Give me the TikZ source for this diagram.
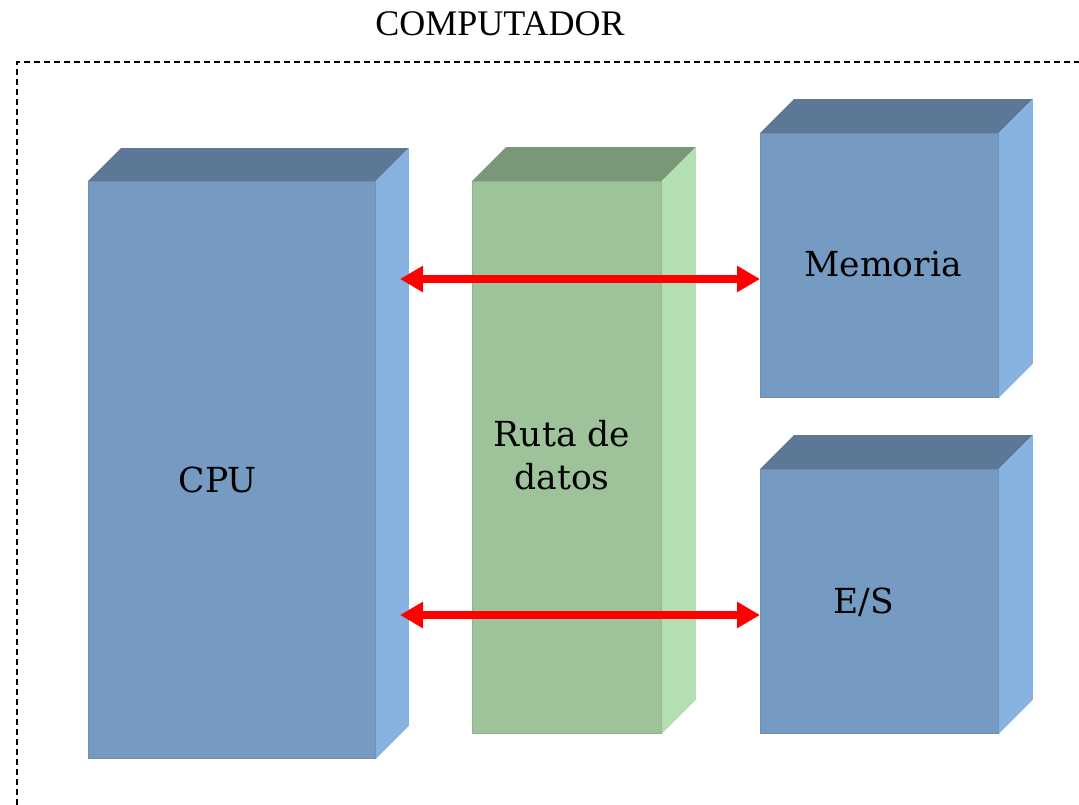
\documentclass[tikz,border=0pt]{standalone}
\usepackage{fontspec}
\setmainfont{DejaVu Serif}
\newfontfamily\titlefont{Liberation Serif}
\usetikzlibrary{arrows.meta}
\definecolor{bfront}{HTML}{759BC3}
\definecolor{btop}{HTML}{5D7896}
\definecolor{bside}{HTML}{87B1DF}
\definecolor{gfront}{HTML}{9EC39B}
\definecolor{gtop}{HTML}{7A9878}
\definecolor{gside}{HTML}{B3DFB2}
\tikzset{
  facebox/.style={rectangle, inner sep=0pt, anchor=north west, draw=#1!92!black, line width=0.8pt, fill=#1},
  lbl/.style={font=\fontsize{34.5}{43}\selectfont, text=black, align=center},
  bus/.style={draw=red, line width=8.5pt, {Triangle[length=23pt,width=25pt]}-{Triangle[length=23pt,width=25pt]}},
  border/.style={draw=black, line width=1.8pt, dash pattern=on 6pt off 4pt}
}
\newcommand{\cubeparts}[4]{% name, depth, top color, side color
  \fill[#3] (#1.north west) -- ++(#2pt,#2pt) -- ([xshift=#2pt,yshift=#2pt]#1.north east) -- (#1.north east) -- cycle;
  \fill[#4] (#1.north east) -- ++(#2pt,#2pt) -- ([xshift=#2pt,yshift=#2pt]#1.south east) -- (#1.south east) -- cycle;
}
\begin{document}
\begin{tikzpicture}[x=1pt,y=-1pt]
\useasboundingbox (0,0) rectangle (1079,804);
\fill[white] (0,0) rectangle (1079,804);
\node[font=\titlefont\fontsize{36}{40}\selectfont] (title) at (500,24) {COMPUTADOR};
\draw[border] (1100,62) -- (17,62) -- (17,830);
% front faces
\node[facebox=bfront, minimum width=287pt, minimum height=577pt] (cpu) at (88,181) {};
\node[facebox=gfront, minimum width=189pt, minimum height=552pt] (ruta) at (472,181) {};
\node[facebox=bfront, minimum width=238pt, minimum height=264pt] (mem) at (760,133) {};
\node[facebox=bfront, minimum width=238pt, minimum height=264pt] (es) at (760,469) {};
\begin{scope}[y=1pt]
\cubeparts{cpu}{33}{btop}{bside}
\cubeparts{ruta}{34}{gtop}{gside}
\cubeparts{mem}{34}{btop}{bside}
\cubeparts{es}{34}{btop}{bside}
\end{scope}
% labels
\node[lbl] (cpulbl) at (218,480) {CPU};
\node[lbl] (rutalbl) at (562,455) {Ruta de\\datos};
\node[lbl] (memlbl) at (883,264) {Memoria};
\node[lbl] (eslbl) at (864,602) {E/S};
% buses
\coordinate (b1) at (400,279);
\coordinate (b2) at (400,615);
\draw[bus] (b1) -- (mem.west |- b1);
\draw[bus] (b2) -- (es.west |- b2);
\end{tikzpicture}
\end{document}
